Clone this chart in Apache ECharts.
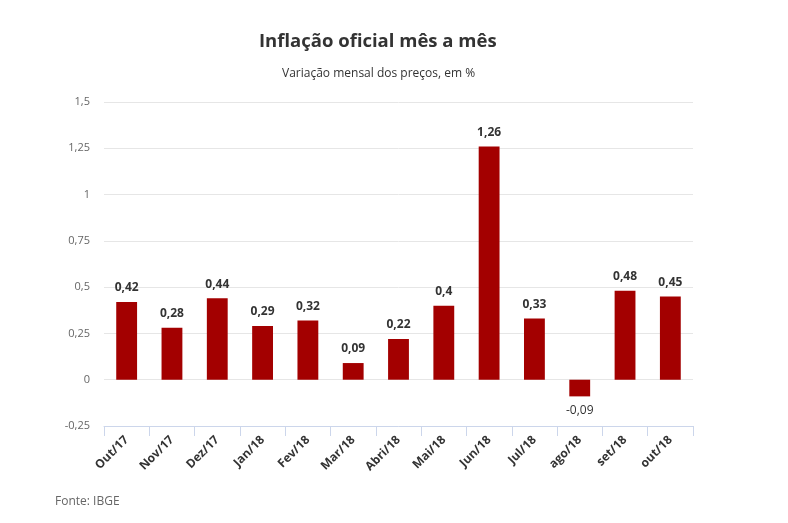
<!DOCTYPE html>
<html>
<head>
<meta charset="utf-8">
<script src="https://cdn.jsdelivr.net/npm/echarts@6/dist/echarts.min.js"></script>
<style>
  html, body { margin: 0; padding: 0; background: #fff; }
  #chart { width: 788px; height: 523px; }
</style>
</head>
<body>
<div id="chart"></div>
<script>
// dados (IBGE)
var categories = ['Out/17', 'Nov/17', 'Dez/17', 'Jan/18', 'Fev/18', 'Mar/18', 'Abri/18',
  'Mai/18', 'Jun/18', 'Jul/18', 'ago/18', 'set/18', 'out/18'];
var values = [0.42, 0.28, 0.44, 0.29, 0.32, 0.09, 0.22, 0.4, 1.26, 0.33, -0.09, 0.48, 0.45];

function fmt(v) {
  return String(v).replace('.', ',');
}

var myChart = echarts.init(document.getElementById('chart'));
myChart.setOption({
  animation: false,
  textStyle: { fontFamily: 'Open Sans' },
  title: [{
    text: 'Inflação oficial mês a mês',
    left: 254,
    top: 27,
    textStyle: { fontSize: 18.5, fontWeight: 'bold', color: '#333', fontFamily: 'Open Sans' }
  }, {
    text: 'Variação mensal dos preços, em %',
    left: 277,
    top: 63,
    textStyle: { fontSize: 12, fontWeight: 'normal', color: '#333', fontFamily: 'Open Sans' }
  }, {
    text: 'Fonte: IBGE',
    left: 50,
    top: 491,
    textStyle: { fontSize: 12, fontWeight: 'normal', color: '#666', fontFamily: 'Open Sans' }
  }],
  grid: {
    left: 104,
    right: 95,
    top: 102,
    bottom: 97,
    containLabel: false
  },
  xAxis: {
    type: 'category',
    data: categories,
    position: 'bottom',
    axisLine: { onZero: false, lineStyle: { color: '#ccd6eb' } },
    axisTick: { show: true, length: 10, lineStyle: { color: '#ccd6eb' } },
    axisLabel: {
      rotate: 45,
      interval: 0,
      margin: 12,
      fontSize: 12,
      fontWeight: 'bold',
      color: '#333'
    }
  },
  yAxis: {
    type: 'value',
    min: -0.25,
    max: 1.5,
    interval: 0.25,
    axisLine: { show: false },
    axisTick: { show: false },
    splitLine: { lineStyle: { color: '#e6e6e6' } },
    axisLabel: {
      fontSize: 11,
      color: '#666',
      margin: 14,
      formatter: function (v) { return fmt(v); }
    }
  },
  series: [{
    type: 'bar',
    barWidth: '46%',
    data: values.map(function (v) {
      return {
        value: v,
        label: {
          position: v < 0 ? 'bottom' : 'top',
          fontWeight: v < 0 ? 'normal' : 'bold'
        }
      };
    }),
    itemStyle: { color: '#a30000' },
    label: {
      show: true,
      distance: 8,
      fontSize: 12,
      fontWeight: 'bold',
      color: '#333',
      formatter: function (p) { return fmt(p.value); }
    }
  }]
});
</script>
</body>
</html>
